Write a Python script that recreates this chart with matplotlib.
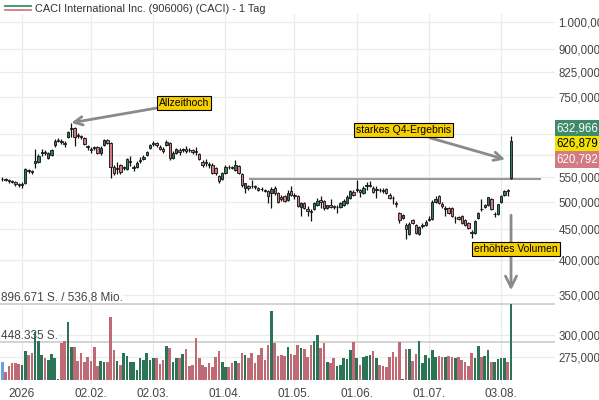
import matplotlib
matplotlib.use("Agg")
import matplotlib.pyplot as plt
from matplotlib.patches import Rectangle
from matplotlib.lines import Line2D
from matplotlib.ticker import NullLocator
import numpy as np

plt.rcParams['font.family'] = ['Liberation Sans', 'DejaVu Sans']

# Tageskerzen, Index 0 = erster Handelstag 2026 (davor 6 Tage aus 2025)
opens = [546, 546, 544, 542, 540, 536, 534, 538, 565, 563, 581, 583, 604, 606, 592, 599,
         623, 632, 632, 628, 642, 662, 665, 647, 645, 640, 620, 613, 618, 618, 604, 623,
         635, 628, 572, 568, 576, 570, 568, 583, 570, 572, 585, 590, 599, 616, 625, 628,
         618, 613, 623, 628, 592, 604, 611, 611, 613, 611, 611, 608, 602, 583, 583, 579,
         576, 570, 553, 546, 559, 572, 572, 565, 574, 557, 528, 532, 532, 532, 528, 526,
         524, 522, 518, 528, 518, 510, 512, 504, 522, 514, 512, 490, 498, 487, 483, 487,
         494, 504, 502, 489, 494, 492, 490, 490, 494, 498, 508, 520, 524, 524, 518, 532,
         532, 528, 524, 524, 524, 526, 514, 508, 498, 479, 470, 458, 442, 467, 458, 442,
         456, 458, 467, 468, 500, 512, 496, 487, 489, 489, 470, 472, 474, 467, 461, 446,
         444, 470, 487, 490, 494, 506, 477, 477, 500, 514, 524, 548]
highs = [550, 548, 546, 544, 542, 538, 540, 570, 568, 565, 613, 602, 613, 611, 606, 613,
         637, 640, 637, 632, 657, 678, 667, 652, 647, 642, 623, 618, 620, 620, 620, 637,
         637, 630, 576, 583, 579, 574, 592, 597, 576, 585, 595, 599, 608, 625, 632, 630,
         623, 618, 635, 630, 608, 616, 616, 616, 620, 616, 613, 618, 604, 588, 590, 583,
         581, 572, 555, 561, 576, 576, 574, 588, 576, 559, 538, 534, 544, 534, 530, 530,
         526, 524, 530, 532, 520, 514, 514, 524, 532, 518, 514, 500, 500, 492, 487, 500,
         508, 512, 504, 494, 506, 494, 494, 500, 506, 514, 524, 524, 544, 526, 532, 540,
         542, 532, 532, 528, 528, 528, 518, 512, 502, 481, 477, 461, 463, 468, 460, 456,
         461, 467, 474, 504, 512, 514, 500, 492, 490, 490, 474, 474, 476, 468, 463, 449,
         467, 481, 506, 496, 510, 508, 481, 496, 514, 524, 526, 644]
lows = [542, 542, 538, 538, 532, 530, 528, 536, 559, 557, 570, 581, 597, 599, 590, 597,
        618, 630, 625, 618, 640, 642, 620, 640, 637, 623, 611, 604, 611, 602, 599, 620,
        625, 548, 555, 557, 557, 565, 565, 574, 563, 570, 581, 588, 597, 613, 620, 618,
        611, 604, 620, 588, 590, 602, 599, 606, 604, 606, 602, 599, 588, 572, 574, 570,
        557, 555, 538, 544, 557, 568, 568, 563, 557, 530, 518, 524, 528, 526, 522, 522,
        520, 498, 489, 514, 498, 502, 500, 502, 512, 506, 490, 474, 487, 474, 465, 485,
        492, 489, 485, 487, 489, 487, 479, 489, 492, 496, 506, 512, 520, 510, 516, 524,
        530, 518, 508, 520, 518, 516, 506, 496, 490, 461, 468, 434, 440, 460, 442, 440,
        453, 456, 465, 467, 498, 496, 489, 474, 477, 472, 461, 467, 460, 456, 451, 435,
        442, 468, 483, 489, 492, 485, 472, 476, 498, 512, 512, 546]
closes = [547, 544, 542, 540, 536, 534, 536, 568, 563, 561, 585, 597, 606, 604, 604, 611,
          632, 635, 630, 625, 655, 665, 642, 645, 642, 625, 618, 611, 616, 604, 616, 635,
          628, 572, 559, 570, 561, 571, 590, 585, 572, 581, 588, 595, 606, 623, 628, 623,
          613, 608, 630, 592, 604, 613, 606, 612, 608, 610, 606, 606, 590, 576, 581, 576,
          559, 559, 542, 559, 572, 571, 570, 576, 559, 534, 538, 528, 531, 530, 524, 525,
          522, 512, 526, 518, 500, 506, 502, 518, 514, 512, 492, 498, 489, 483, 481, 498,
          502, 500, 489, 494, 490, 490, 491, 498, 502, 510, 522, 514, 525, 520, 528, 533,
          534, 520, 525, 523, 522, 518, 508, 507, 497, 467, 476, 451, 460, 461, 444, 454,
          458, 463, 468, 500, 506, 498, 492, 488, 479, 474, 471, 468, 461, 458, 453, 444,
          465, 479, 486, 494, 510, 487, 478, 496, 512, 522, 522, 632.966]
# Volumen in Tausend Stueck
volume_k = [220, 94, 169, 200, 200, 192, 180, 350, 298, 318, 562, 456, 298, 259, 240, 310,
            259, 20, 436, 456, 680, 397, 397, 232, 318, 220, 279, 232, 389, 169, 232, 220,
            220, 744, 357, 232, 181, 318, 287, 220, 220, 122, 259, 240, 326, 240, 259, 259,
            192, 240, 405, 377, 220, 259, 259, 310, 369, 169, 181, 499, 259, 181, 161, 208,
            161, 271, 350, 220, 153, 153, 200, 232, 200, 326, 295, 267, 318, 208, 295, 381,
            240, 413, 810, 436, 287, 298, 287, 397, 310, 298, 413, 385, 369, 279, 417, 464,
            531, 377, 436, 220, 208, 259, 169, 181, 259, 247, 357, 448, 259, 181, 279, 287,
            298, 346, 259, 181, 169, 153, 271, 330, 271, 448, 12, 373, 365, 232, 310, 464,
            200, 298, 259, 357, 279, 287, 271, 271, 287, 271, 259, 271, 240, 220, 169, 326,
            259, 405, 271, 291, 357, 220, 220, 247, 259, 259, 220, 896.671]
idx = np.arange(-6, -6 + len(closes))

tick_pos = [0, 21, 40, 62, 83, 102, 124, 146]
tick_labels = ['2026', '02.02.', '02.03.', '01.04.', '01.05.', '01.06.', '01.07.', '03.08.']
price_ticks = [275, 300, 350, 400, 450, 500, 550, 600, 650, 750, 825, 900, 1000]
hidden_ticks = [600, 650]
support_level = 546
tag_values = [632.966, 626.879, 620.792]
vol_text_top = '896.671 S. / 536,8 Mio.'
vol_text_half = '448.335 S.'
title = 'CACI International Inc. (906006) (CACI) - 1 Tag'

GREEN = '#2e7d5b'
RED = '#cf7a85'
VGREEN = '#2b7457'
VRED = '#c06a75'


def de_fmt(v):
    s = f"{v:,.3f}"
    return s.replace(',', 'X').replace('.', ',').replace('X', '.')


o = np.array(opens, float)
h = np.array(highs, float)
l = np.array(lows, float)
c = np.array(closes, float)
vol = np.array(volume_k, float) * 1000
up = c >= o

fig = plt.figure(figsize=(5.99, 4.0), dpi=100)
rect = [0, 16 / 400, 555 / 599, 370 / 400]
ax = fig.add_axes(rect)
ax_vol = fig.add_axes(rect, sharex=ax)
ax_vol.patch.set_visible(False)

# Volumen (oberste Ebene, Balken ueber dem Gitter)
vcol = [VGREEN if u else VRED for u in up]
vcol[0] = '#6f9fe0'
ax_vol.bar(idx, vol, width=0.8, color=vcol, edgecolor='none', zorder=2)
vmax = vol.max()
frac = (384 - 304) / 370
base = (384 - 380.3) / 370
per = vmax / (frac - base)
ax_vol.set_ylim(-base * per, (1 - base) * per)
for v in (vmax, vmax / 2):
    ax_vol.axhline(v, color='#cccccc', lw=1.2, zorder=1.6)
ytr = ax_vol.get_yaxis_transform()
for v, txt in ((vmax, vol_text_top), (vmax / 2, vol_text_half)):
    ax_vol.text(0.001, v, txt, transform=ytr, fontsize=8.5, color='#444444',
                va='bottom', ha='left', zorder=1.5,
                bbox=dict(boxstyle='square,pad=0.05', fc='white', ec='none'))
ax_vol.set_yticks([])
ax_vol.tick_params(axis='x', length=0, labelbottom=False)
for s in ax_vol.spines.values():
    s.set_visible(False)

# Kerzen
ax.set_yscale('log')
ax.vlines(idx, l, h, color='#111111', lw=0.9, zorder=3)
body_lo = np.minimum(o, c)
body_h = np.maximum(np.abs(c - o), 0.6)
ax.bar(idx, body_h, bottom=body_lo, width=0.72, color=[GREEN if u else RED for u in up],
       edgecolor='#111111', lw=0.6, zorder=4)
ax.hlines(support_level, 69.2, 158.1, color='#999999', lw=1.5, zorder=2)

ax.set_ylim(500 * np.exp(-182 / 260), 500 * np.exp(188 / 260))
ax.set_xlim(-6.7, 162.4)
ax.set_yticks(price_ticks)
ax.set_yticklabels(['' if t in hidden_ticks else de_fmt(t) for t in price_ticks])
ax.yaxis.set_minor_locator(NullLocator())
ax.yaxis.tick_right()
ax.tick_params(axis='y', length=0, pad=2.5, labelsize=8.3, labelcolor='#444444')
ax.set_xticks(tick_pos)
ax.set_xticklabels(tick_labels)
ax.tick_params(axis='x', length=0, pad=3, labelsize=8.5, labelcolor='#444444')
ax.grid(True, color='#ebebeb', lw=0.9, zorder=0)
for s in ax.spines.values():
    s.set_visible(False)

# Anmerkungen
box = dict(boxstyle='square,pad=0.2', fc='#f7d000', ec='black', lw=0.8)
arrow = dict(arrowstyle='->,head_length=0.8,head_width=0.4', color='#8a8a8a', lw=2,
             shrinkA=0, shrinkB=0)
ath = int(np.argmax(h))
ax.annotate('Allzeithoch', xy=(idx[ath], h[ath]), xytext=(81, 14), textcoords='offset points',
            ha='center', va='center', fontsize=7.5, bbox=box, arrowprops=arrow, zorder=10)
ax.annotate('starkes Q4-Ergebnis', xy=(idx[-1] - 1.8, np.sqrt(o[-1] * c[-1])),
            xytext=(-73, 21), textcoords='offset points', ha='center', va='center',
            fontsize=7.5, bbox=box, arrowprops=arrow, zorder=10)
ax.annotate('', xy=(idx[-1], vmax * 1.18), xycoords=ax_vol.transData,
            xytext=(0, 54), textcoords='offset points', arrowprops=arrow,
            annotation_clip=False, zorder=10)
ax.annotate('erhöhtes Volumen', xy=(idx[-1], vmax * 1.18), xycoords=ax_vol.transData,
            xytext=(3.6, 29.5), textcoords='offset points', ha='center', va='center',
            fontsize=7.5, bbox=box, annotation_clip=False, zorder=11)

# Kursschilder rechts
tag_cols = [('#3d8c69', 'white'), ('#f2e400', 'black'), ('#d27b84', 'white')]
tag_rows = [(120, 136.5), (136.5, 151.5), (151.5, 168)]
for val, (fc, tc), (y0, y1) in zip(tag_values, tag_cols, tag_rows):
    fig.add_artist(Rectangle((555 / 599, 1 - y1 / 400), 44 / 599, (y1 - y0) / 400,
                             transform=fig.transFigure, fc=fc, ec='none', zorder=5))
    fig.text(598 / 599, 1 - (y0 + y1) / 2 / 400, de_fmt(val), ha='right', va='center',
             fontsize=8.3, color=tc, zorder=6)

# Titel mit Legendensymbol
fig.add_artist(Line2D([5 / 599, 31 / 599], [1 - 5.5 / 400] * 2, color='#3d8c69', lw=1.3,
                      transform=fig.transFigure))
fig.add_artist(Line2D([5 / 599, 31 / 599], [1 - 10 / 400] * 2, color='#d27b84', lw=1.3,
                      transform=fig.transFigure))
fig.text(35 / 599, 1 - 9.5 / 400, title, ha='left', va='center', fontsize=7.9, color='#333333')

fig.savefig('out.png', dpi=100)
